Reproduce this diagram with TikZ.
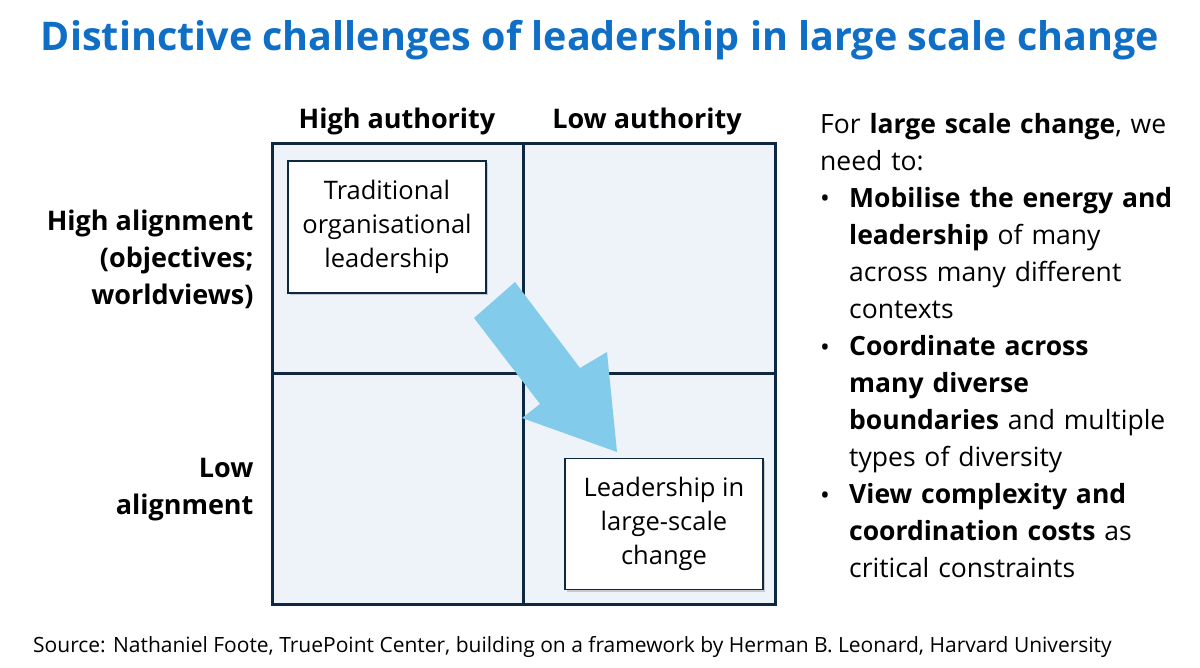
\documentclass[tikz,border=0pt]{standalone}
\usepackage{fontspec}
\setmainfont{Open Sans}
\usetikzlibrary{shadows}
\definecolor{navy}{HTML}{0E2841}
\definecolor{cellc}{HTML}{EEF3FA}
\definecolor{titleblue}{HTML}{0F6FC6}
\definecolor{arrowc}{HTML}{83CBEB}
\begin{document}
\begin{tikzpicture}[x=1pt,y=-1pt,
  lab/.style={font=\fontsize{27}{37}\selectfont\bfseries},
  boxt/.style={draw=navy,line width=1.5pt,fill=white,drop shadow={shadow xshift=2pt,shadow yshift=-2pt,opacity=0.35},font=\fontsize{25.5}{34}\selectfont,align=center}]
\useasboundingbox (0,0) rectangle (1200,667);
\node[font=\fontsize{39.5}{44}\selectfont\bfseries,text=titleblue] (title) at (600,40) {Distinctive challenges of leadership in large scale change};
\draw[fill=cellc,draw=navy,line width=3pt] (272,143) rectangle (775,604);
\draw[navy,line width=3pt] (523,143) coordinate (t) -- (523,604) coordinate (b);
\draw[navy,line width=3pt] (272,373) coordinate (l) -- (775,373) coordinate (r);
\node[lab] (ha) at (397,121) {High authority};
\node[lab] (la) at (647,121) {Low authority};
\node[lab,align=right,anchor=east] (hal) at (257,259) {High alignment\\(objectives;\\worldviews)};
\node[lab,align=right,anchor=east] (lal) at (257,490) {Low\\alignment};
\node[boxt,minimum width=198pt,minimum height=132pt] (b1) at (387,227) {Traditional\\organisational\\leadership};
\node[boxt,minimum width=198pt,minimum height=131pt] (b2) at (664,524) {Leadership in\\large-scale\\change};
\fill[arrowc] (474,318) -- (515,282) -- (580,368) -- (607,352) -- (617,452) -- (522,418) -- (540,404) -- cycle;
\node[anchor=north west,align=left,font=\fontsize{26.5}{37}\selectfont,text width=380pt,inner sep=0pt] (rt) at (820,113)
{For \textbf{large scale change}, we\\need to:};
\node[anchor=north west,align=left,font=\fontsize{26.5}{37}\selectfont,text width=350pt,inner sep=0pt] (bl1) at (849,187)
{\textbf{Mobilise the energy and}\\\textbf{leadership} of many\\across many different\\contexts};
\node[anchor=north west,align=left,font=\fontsize{26.5}{37}\selectfont,text width=350pt,inner sep=0pt] (bl2) at (849,335)
{\textbf{Coordinate across}\\\textbf{many diverse}\\\textbf{boundaries} and multiple\\types of diversity};
\node[anchor=north west,align=left,font=\fontsize{26.5}{37}\selectfont,text width=350pt,inner sep=0pt] (bl3) at (849,483)
{\textbf{View complexity and}\\\textbf{coordination costs} as\\critical constraints};
\foreach \yy/\n in {201/d1,350/d2,498/d3} \node[font=\fontsize{26}{37}\selectfont] (\n) at (825,\yy) {•};
\node[anchor=west,font=\fontsize{21}{24}\selectfont,inner sep=0pt] (src) at (33,647) {Source: Nathaniel Foote, TruePoint Center, building on a framework by Herman B. Leonard, Harvard University};
\end{tikzpicture}
\end{document}
